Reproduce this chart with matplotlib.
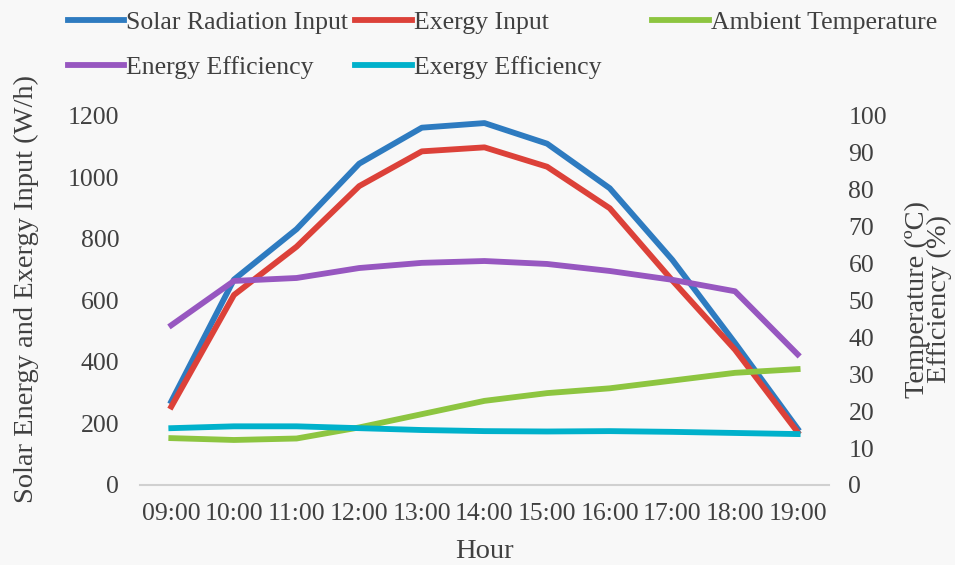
import matplotlib.pyplot as plt

plt.rcParams['font.family'] = ['Liberation Serif', 'DejaVu Serif']

hours = ['09:00', '10:00', '11:00', '12:00', '13:00', '14:00',
         '15:00', '16:00', '17:00', '18:00', '19:00']

# left axis (W/h)
solar_input = [272, 668, 832, 1045, 1162, 1177, 1110, 965, 732, 462, 183]
exergy_input = [255, 618, 775, 972, 1085, 1098, 1035, 900, 665, 440, 172]

# right axis (ºC / %)
ambient_temp = [12.7, 12.2, 12.6, 15.6, 19.2, 22.8, 24.9, 26.2, 28.3, 30.4, 31.4]
energy_eff = [43.3, 55.3, 56.1, 58.8, 60.2, 60.7, 59.9, 58.0, 55.6, 52.5, 35.4]
exergy_eff = [15.4, 15.9, 15.9, 15.4, 14.9, 14.6, 14.5, 14.6, 14.4, 14.1, 13.8]

c_blue = '#2E7BC0'
c_red = '#DC4139'
c_green = '#8DC540'
c_purple = '#9757C0'
c_cyan = '#00B1CB'
bg = '#F8F8F8'

fig = plt.figure(figsize=(9.55, 5.65), dpi=100, facecolor=bg)
ax = fig.add_axes([0.1466, 0.1416, 0.7214, 0.6531])
ax.set_facecolor(bg)
ax2 = ax.twinx()

x = list(range(len(hours)))
lw = 4.2
l1, = ax.plot(x, solar_input, color=c_blue, lw=lw, label='Solar Radiation Input', zorder=3)
l2, = ax.plot(x, exergy_input, color=c_red, lw=lw, label='Exergy Input', zorder=3)
l3, = ax2.plot(x, ambient_temp, color=c_green, lw=lw, label='Ambient Temperature')
l4, = ax2.plot(x, energy_eff, color=c_purple, lw=lw, label='Energy Efficiency')
l5, = ax2.plot(x, exergy_eff, color=c_cyan, lw=lw, label='Exergy Efficiency')

ax.set_xlim(-0.5, len(hours) - 0.5)
ax.set_ylim(0, 1200)
ax2.set_ylim(0, 100)
ax.set_yticks(range(0, 1201, 200))
ax2.set_yticks(range(0, 101, 10))
ax.set_xticks(x)
ax.set_xticklabels(hours)

fs = 19
tc = '#404040'
for a in (ax, ax2):
    for s in a.spines.values():
        s.set_visible(False)
    a.tick_params(length=0, labelsize=fs - 0.5, colors=tc)
ax.spines['bottom'].set_visible(True)
ax.spines['bottom'].set_color('#D0D0D0')
ax.spines['bottom'].set_linewidth(1.5)
ax.tick_params(axis='y', pad=15)
ax.tick_params(axis='x', pad=13)
ax2.tick_params(axis='y', pad=14)

ax.set_ylabel('Solar Energy and Exergy Input (W/h)', fontsize=fs + 1.5, color=tc)
ax.yaxis.set_label_coords(-0.147, 0.53)
ax.set_xlabel('Hour', fontsize=fs + 1.5, color=tc, labelpad=10)

fig.text(0.972, 0.47, 'Temperature (ºC)\nEfficiency (%)', rotation=90,
         ha='center', va='center', fontsize=fs + 1.5, color=tc, linespacing=0.85)

# legend entries at fixed slots, two rows
slots = [(0.071, 0.961), (0.372, 0.961), (0.683, 0.961),
         (0.071, 0.880), (0.372, 0.880)]
for h, (lx, ly) in zip([l1, l2, l3, l4, l5], slots):
    fig.legend(handles=[h], loc='center left', bbox_to_anchor=(lx, ly),
               frameon=False, fontsize=fs - 0.5, handlelength=2.2,
               handletextpad=0.08, borderpad=0, borderaxespad=0,
               labelcolor=tc)

fig.savefig('out.png', dpi=100, facecolor=bg)
